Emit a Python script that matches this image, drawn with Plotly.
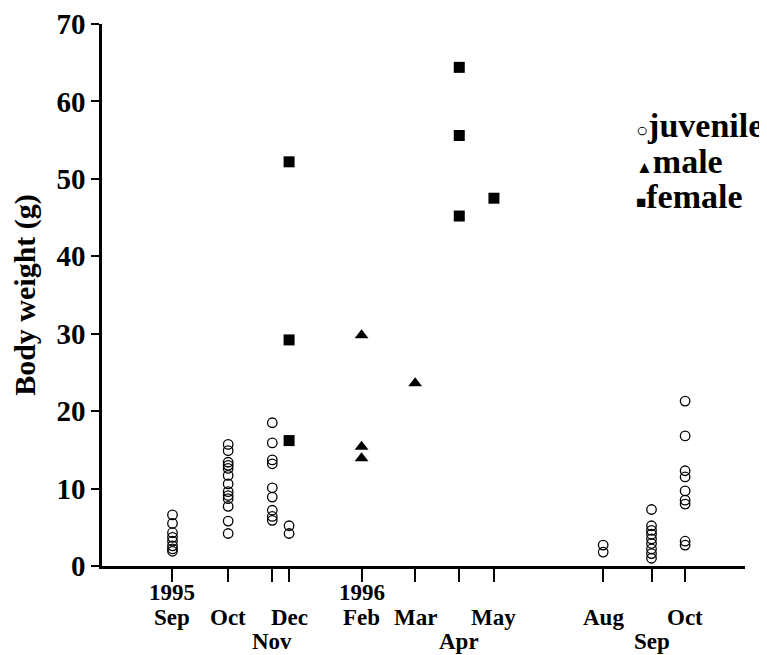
import plotly.graph_objects as go

# ---- data -------------------------------------------------------------
# sampling occasions (x position = weeks since the first sampling)
occasion_week = [0, 5.3, 9.5, 11.1, 18.0, 23.1, 27.3, 30.6, 41.0, 45.6, 48.8]
month_labels = ["Sep", "Oct", "Nov", "Dec", "Feb", "Mar", "Apr", "May", "Aug", "Sep", "Oct"]
label_row = [0, 0, 1, 0, 0, 0, 1, 0, 0, 1, 0]
year_labels = ["1995", "", "", "", "1996", "", "", "", "", "", ""]

# juvenile body weights (g), per sampling occasion index
juvenile = {
    0: [6.6, 5.5, 4.3, 3.7, 3.2, 2.6, 2.2, 1.9],
    1: [15.7, 14.9, 13.4, 13.0, 12.6, 11.7, 10.6, 9.6, 9.1, 8.7, 7.7, 5.8, 4.2],
    2: [18.5, 15.9, 13.7, 13.2, 10.1, 8.9, 7.2, 6.4, 5.9],
    3: [5.2, 4.2],
    8: [2.7, 1.8],
    9: [7.3, 5.2, 4.6, 4.1, 3.5, 2.9, 2.2, 1.6, 1.0],
    10: [21.3, 16.8, 12.3, 11.5, 9.7, 8.5, 8.0, 3.2, 2.7],
}
male = {
    4: [29.8, 15.4, 13.9],
    5: [23.6],
}
female = {
    3: [52.2, 29.2, 16.2],
    6: [64.4, 55.6, 45.2],
    7: [47.5],
}

y_ticks = [0, 10, 20, 30, 40, 50, 60, 70]
legend_labels = ["juvenile", "male", "female"]
legend_glyphs = ["\u25CB", "\u25B2", "\u25A0"]


def flatten(groups):
    xs, ys = [], []
    for idx, vals in groups.items():
        for v in vals:
            xs.append(occasion_week[idx])
            ys.append(v)
    return xs, ys


SERIF = "Liberation Serif, Times New Roman, serif"

fig = go.Figure()

jx, jy = flatten(juvenile)
fig.add_trace(go.Scatter(x=jx, y=jy, mode="markers", name="juvenile",
                         marker=dict(symbol="circle-open", size=9.5, color="black",
                                     line=dict(width=1.3, color="black")),
                         cliponaxis=False, showlegend=False))
mx, my = flatten(male)
fig.add_trace(go.Scatter(x=mx, y=my, mode="markers", name="male",
                         marker=dict(symbol="triangle-up", size=12, color="black"),
                         cliponaxis=False, showlegend=False))
fx, fy = flatten(female)
fig.add_trace(go.Scatter(x=fx, y=fy, mode="markers", name="female",
                         marker=dict(symbol="square", size=11, color="black"),
                         cliponaxis=False, showlegend=False))

annotations = []
# x tick labels (staggered rows)
row_y = [-0.0954, -0.1384]
for xv, lab, row, yr in zip(occasion_week, month_labels, label_row, year_labels):
    annotations.append(dict(x=xv, y=row_y[row], xref="x", yref="paper", text=lab,
                            showarrow=False, xanchor="center", yanchor="middle",
                            font=dict(family=SERIF, size=23, color="black", weight="bold")))
    if yr:
        annotations.append(dict(x=xv, y=-0.0498, xref="x", yref="paper", text=yr,
                                showarrow=False, xanchor="center", yanchor="middle",
                                font=dict(family=SERIF, size=23, color="black", weight="bold")))

# legend
legend_y = [0.813, 0.747, 0.681]
glyph_size = [20, 17, 17]
for lab, gl, gy, gs in zip(legend_labels, legend_glyphs, legend_y, glyph_size):
    annotations.append(dict(x=0.827, y=gy, xref="paper", yref="paper",
                            text=f"<span style='font-size:{gs}px'>{gl}</span>{lab}",
                            showarrow=False, xanchor="left", yanchor="middle",
                            font=dict(family=SERIF, size=34, color="black", weight="bold")))

fig.update_layout(
    width=767, height=655,
    margin=dict(l=94, r=30, t=16, b=97),
    paper_bgcolor="white", plot_bgcolor="white",
    annotations=annotations,
    showlegend=False,
)
fig.update_xaxes(range=[-6.71, 54.5], tickvals=occasion_week, showticklabels=False,
                 ticks="outside", ticklen=13, tickwidth=2, tickcolor="black",
                 showline=True, linewidth=3, linecolor="black",
                 showgrid=False, zeroline=False, automargin=False)
fig.update_yaxes(range=[0, 70], tickvals=y_ticks, ticks="outside", ticklen=8,
                 tickwidth=2, tickcolor="black",
                 tickfont=dict(family=SERIF, size=29, color="black", weight="bold"),
                 showline=True, linewidth=2.5, linecolor="black",
                 showgrid=False, zeroline=False, automargin=False,
                 title=dict(text="Body weight (g)", standoff=12,
                            font=dict(family=SERIF, size=30, color="black", weight="bold")))

fig.write_html("out.html")
